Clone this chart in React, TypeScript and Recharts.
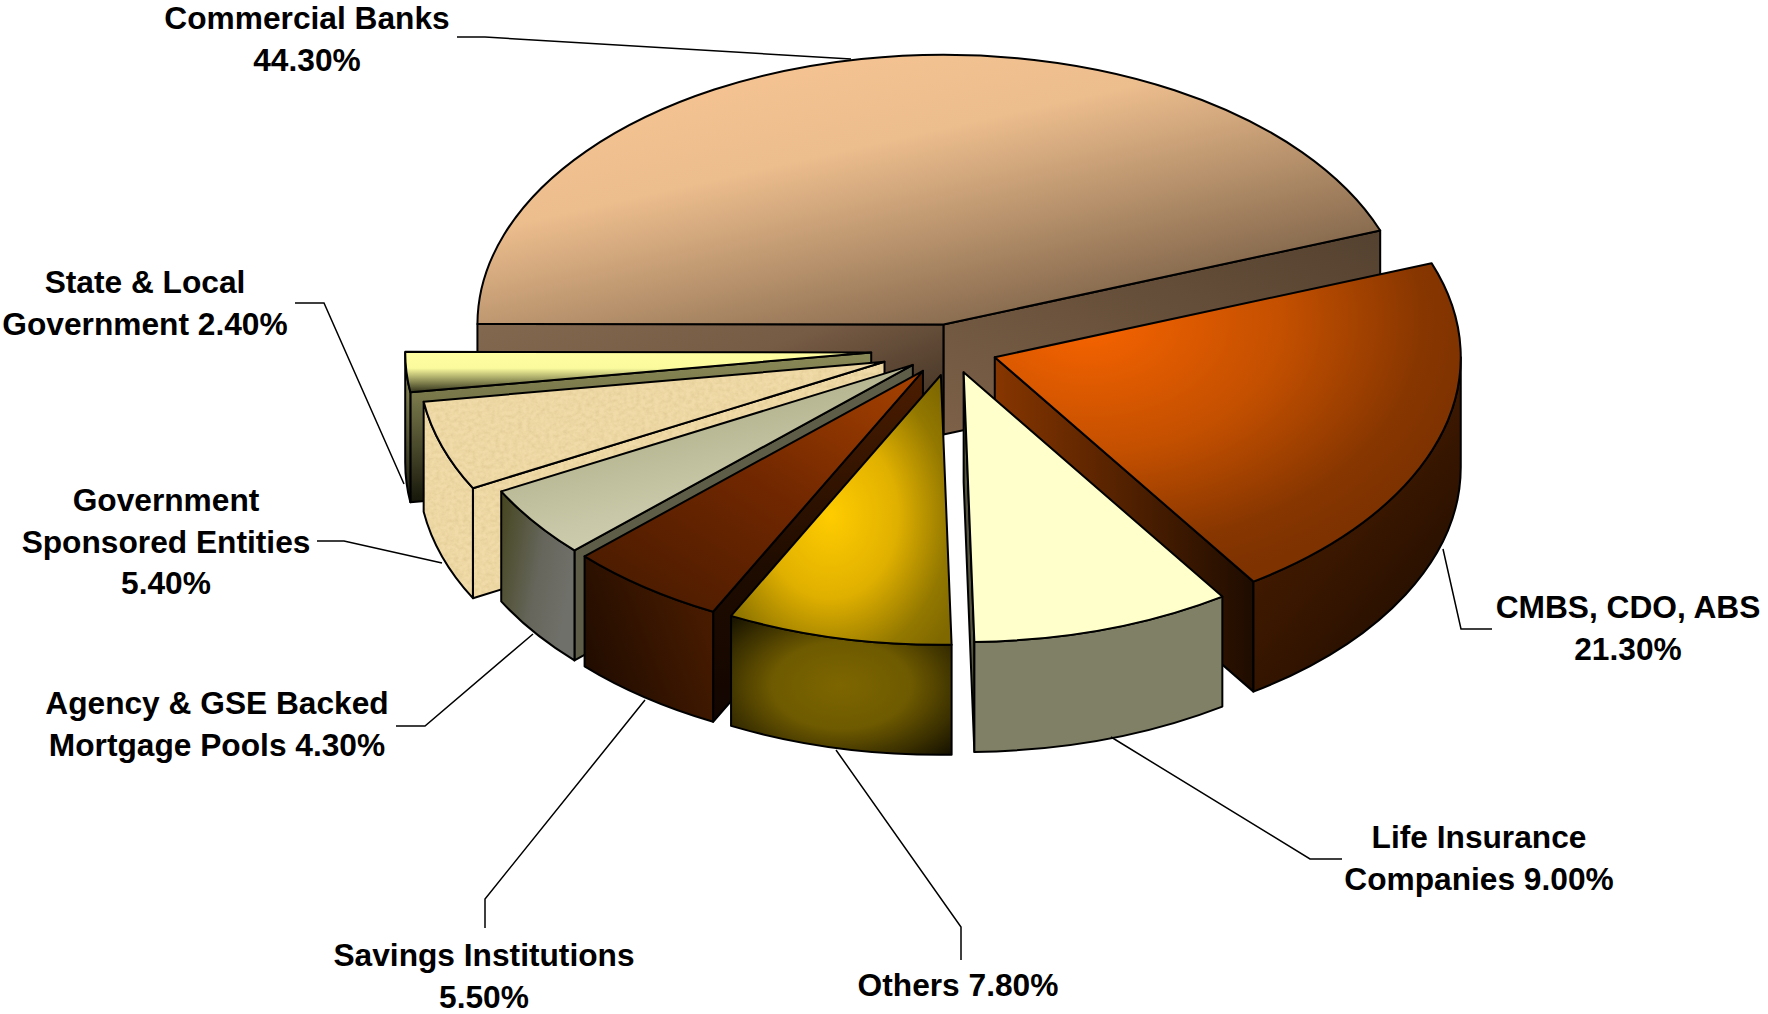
import { PieChart, Pie } from 'recharts';

const NAMES = [
  'Commercial Banks',
  'State & Local Government',
  'Government Sponsored Entities',
  'Agency & GSE Backed Mortgage Pools',
  'Savings Institutions',
  'Others',
  'Life Insurance Companies',
  'CMBS, CDO, ABS',
];
const SHARES = [44.3, 2.4, 5.4, 4.3, 5.5, 7.8, 9.0, 21.3];
const LABEL_LINES = [
  ['Commercial Banks', '44.30%'],
  ['State & Local', 'Government 2.40%'],
  ['Government', 'Sponsored Entities', '5.40%'],
  ['Agency & GSE Backed', 'Mortgage Pools 4.30%'],
  ['Savings Institutions', '5.50%'],
  ['Others 7.80%'],
  ['Life Insurance', 'Companies 9.00%'],
  ['CMBS, CDO, ABS', '21.30%'],
];

const data = NAMES.map((name, i) => ({ name, value: SHARES[i], slot: i }));

// how far each slice is pulled out of the pie
const EXPLODE = [43, 80, 70, 47, 47, 46, 42, 46];
// these two are painted first, the rest go on top of them
const BACK_SLOTS = [0, 7];

const TILT = 0.579;
const DEPTH = 110;

// label text: centre x and first baseline, leader line: points from text to slice
const LABEL_POS = [
  [307, 29], [145, 293], [166, 511], [217, 714], [484, 966], [958, 996], [1479, 848], [1628, 618],
];
const LEADERS = [
  [[457, 37], [485, 37], [851, 59]],
  [[295, 303], [324, 303], [404, 484]],
  [[317, 541], [344, 541], [442, 563]],
  [[396, 726], [425, 726], [533, 634]],
  [[485, 928], [485, 899], [645, 700]],
  [[961, 960], [961, 927], [836, 750]],
  [[1342, 859], [1310, 859], [1111, 737]],
  [[1492, 629], [1461, 629], [1443, 549]],
];

const FACES = [
  { top: 'url(#bankTop)', start: 'url(#bankStart)', end: 'url(#bankEnd)', outer: '#6b533d' },
  { top: 'url(#stateTop)', start: '#807f50', end: 'url(#stateWall)', outer: 'url(#stateWall)' },
  { top: '#f1dba8', start: '#f1dba8', end: '#f1dba8', outer: '#f1dba8', paper: true },
  { top: 'url(#agencyTop)', start: '#5e5e48', end: '#5e5e48', outer: 'url(#agencyOuter)' },
  { top: 'url(#savingsTop)', start: '#200c00', end: 'url(#savingsEnd)', outer: 'url(#savingsOuter)' },
  { top: 'url(#othersTop)', start: '#3a2f00', end: '#3a2f00', outer: 'url(#othersOuter)' },
  { top: '#ffffcc', start: '#55553f', end: '#55553f', outer: '#808066' },
  { top: 'url(#cmbsTop)', start: 'url(#cmbsStart)', end: '#2a1200', outer: 'url(#cmbsOuter)' },
];

const rad = (a: number) => (a * Math.PI) / 180;

function Slice3D({ cx, cy, outerRadius, startAngle, endAngle, payload, layer }: any) {
  const slot = payload.slot;
  const isBack = BACK_SLOTS.includes(slot);
  if (isBack !== (layer === 'back')) return null;

  const face = FACES[slot];
  const rx = outerRadius;
  const ry = outerRadius * TILT;
  const mid = rad((startAngle + endAngle) / 2);
  const ox = cx + EXPLODE[slot] * Math.cos(mid);
  const oy = cy - EXPLODE[slot] * Math.sin(mid) * TILT;
  const pt = (a: number, drop = 0) => {
    const x = ox + rx * Math.cos(rad(a));
    const y = oy - ry * Math.sin(rad(a)) + drop;
    return `${x.toFixed(2)} ${y.toFixed(2)}`;
  };
  const arc = (to: string, sweep: number, big = 0) => `A ${rx} ${ry} 0 ${big} ${sweep} ${to}`;
  const edge = (a: number) =>
    `M ${ox} ${oy} L ${pt(a)} L ${pt(a, DEPTH)} L ${ox} ${oy + DEPTH} Z`;

  const lo = Math.max(startAngle, 180);
  const hi = Math.min(endAngle, 360);
  const big = endAngle - startAngle > 180 ? 1 : 0;
  const topPath = `M ${ox} ${oy} L ${pt(startAngle)} ${arc(pt(endAngle), 0, big)} Z`;
  const outerPath = `M ${pt(lo)} ${arc(pt(hi), 0)} L ${pt(hi, DEPTH)} ${arc(pt(lo, DEPTH), 1)} Z`;
  const lineProps = { stroke: '#000', strokeWidth: 2, strokeLinejoin: 'round' as const };
  const paper = face.paper ? 'url(#parchment)' : undefined;

  return (
    <g>
      {Math.cos(rad(startAngle)) > 0 && <path d={edge(startAngle)} fill={face.start} {...lineProps} />}
      {Math.cos(rad(endAngle)) < 0 && (
        <>
          <path d={edge(endAngle)} fill={face.end} filter={paper} />
          <path d={edge(endAngle)} fill="none" {...lineProps} />
        </>
      )}
      {hi > lo && (
        <>
          <path d={outerPath} fill={face.outer} filter={paper} />
          <path d={outerPath} fill="none" {...lineProps} />
        </>
      )}
      <path d={topPath} fill={face.top} filter={paper} />
      <path d={topPath} fill="none" {...lineProps} />
    </g>
  );
}

function SliceLabel({ index }: any) {
  const [x, y] = LABEL_POS[index];
  const leader = LEADERS[index].map((p) => p.join(',')).join(' ');
  return (
    <g>
      <polyline points={leader} fill="none" stroke="#000" strokeWidth={1.5} />
      <text
        x={x}
        y={y}
        textAnchor="middle"
        fontFamily="'Liberation Sans', Arial, sans-serif"
        fontWeight="bold"
        fontSize={31.7}
        fill="#000"
      >
        {LABEL_LINES[index].map((line, i) => (
          <tspan key={line} x={x} dy={i === 0 ? 0 : 41.5}>
            {line}
          </tspan>
        ))}
      </text>
    </g>
  );
}

function Grad({ id, from, to, stops }: { id: string; from: number[]; to: number[]; stops: [number, string][] }) {
  return (
    <linearGradient id={id} x1={from[0]} y1={from[1]} x2={to[0]} y2={to[1]}>
      {stops.map(([o, c]) => (
        <stop key={o} offset={o} stopColor={c} />
      ))}
    </linearGradient>
  );
}

function Glow({ id, cx, cy, r, stops }: { id: string; cx: number; cy: number; r: number; stops: [number, string][] }) {
  return (
    <radialGradient id={id} cx={cx} cy={cy} r={r}>
      {stops.map(([o, c]) => (
        <stop key={o} offset={o} stopColor={c} />
      ))}
    </radialGradient>
  );
}

export default function App() {
  return (
    <div style={{ position: 'absolute', left: 0, top: 0, width: 1768, height: 1014, background: '#fff' }}>
      <PieChart width={1768} height={1014} margin={{ top: 0, right: 0, bottom: 0, left: 0 }}>
        <defs>
          <Grad id="bankTop" from={[0.22, 0.12]} to={[0.82, 0.92]} stops={[[0, '#f5c392'], [0.3, '#ecbd8d'], [1, '#775d44']]} />
          <Grad id="bankStart" from={[1, 0]} to={[0, 1]} stops={[[0, '#54412f'], [1, '#7d6148']]} />
          <Grad id="bankEnd" from={[0, 0]} to={[1, 0.6]} stops={[[0, '#836850'], [0.55, '#775c45'], [1, '#4a3828']]} />
          <Grad id="stateTop" from={[0, 0]} to={[0, 1]} stops={[[0, '#ffffa2'], [0.4, '#fbfb9e'], [1, '#30301a']]} />
          <Grad id="stateWall" from={[0, 0]} to={[0, 1]} stops={[[0, '#8a8a58'], [0.3, '#77774a'], [1, '#16160a']]} />
          <Grad id="agencyTop" from={[0.05, 0.2]} to={[0.5, 1]} stops={[[0, '#a6a67f'], [0.7, '#c8c8a8'], [1, '#d2d2b4']]} />
          <Grad id="agencyOuter" from={[0, 0]} to={[1, 0.4]} stops={[[0, '#45451f'], [0.6, '#66665c'], [1, '#70706a']]} />
          <Grad id="savingsTop" from={[1, 0]} to={[0.1, 1]} stops={[[0, '#a84200'], [0.5, '#702700'], [1, '#471a00']]} />
          <Grad id="savingsOuter" from={[0, 0.8]} to={[1, 0.3]} stops={[[0, '#1e0b00'], [1, '#4a1c00']]} />
          <Grad id="savingsEnd" from={[0, 0]} to={[0, 1]} stops={[[0, '#4c1d00'], [0.55, '#1f0c00'], [1, '#120500']]} />
          <Glow id="othersTop" cx={0.45} cy={0.52} r={0.68} stops={[[0, '#ffcc00'], [0.45, '#e0b000'], [0.8, '#937800'], [1, '#7f6800']]} />
          <Glow id="othersOuter" cx={0.5} cy={0.5} r={0.7} stops={[[0, '#7d6600'], [0.45, '#6e5a00'], [1, '#151100']]} />
          <Glow id="cmbsTop" cx={0.2} cy={0.18} r={0.85} stops={[[0, '#f86400'], [0.5, '#c24f00'], [0.85, '#873600'], [1, '#7d3200']]} />
          <Grad id="cmbsOuter" from={[0.05, 0]} to={[0.75, 1]} stops={[[0, '#521f00'], [0.55, '#3a1700'], [1, '#1e0c00']]} />
          <Grad id="cmbsStart" from={[0, 0]} to={[1, 0]} stops={[[0, '#873600'], [1, '#1e0c00']]} />
          <filter id="parchment" x="0" y="0" width="100%" height="100%">
            <feTurbulence type="fractalNoise" baseFrequency="0.22 0.26" numOctaves={3} seed={4} result="noise" />
            <feColorMatrix
              in="noise"
              type="matrix"
              values="0 0 0 0 0.62  0 0 0 0 0.47  0 0 0 0 0.2  0.75 0 0 0 -0.25"
              result="mottle"
            />
            <feComposite in="mottle" in2="SourceAlpha" operator="in" result="clipped" />
            <feMerge>
              <feMergeNode in="SourceGraphic" />
              <feMergeNode in="clipped" />
            </feMerge>
          </filter>
        </defs>
        <Pie
          data={data}
          dataKey="value"
          nameKey="name"
          cx={951}
          cy={349}
          outerRadius={466}
          startAngle={20.4}
          endAngle={380.4}
          stroke="none"
          isAnimationActive={false}
          shape={(props: any) => <Slice3D {...props} layer="back" />}
        />
        <Pie
          data={data}
          dataKey="value"
          nameKey="name"
          cx={951}
          cy={349}
          outerRadius={466}
          startAngle={20.4}
          endAngle={380.4}
          stroke="none"
          isAnimationActive={false}
          shape={(props: any) => <Slice3D {...props} layer="front" />}
          label={(props: any) => <SliceLabel {...props} />}
          labelLine={false}
        />
      </PieChart>
    </div>
  );
}
